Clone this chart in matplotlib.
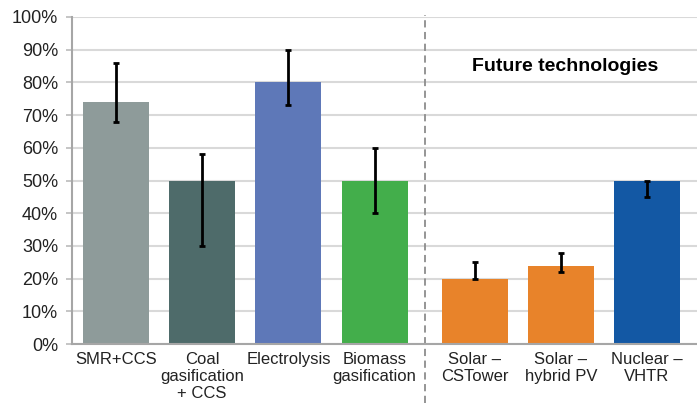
import numpy as np
import matplotlib.pyplot as plt
from matplotlib.ticker import PercentFormatter

plt.rcParams['font.family'] = ['Liberation Sans', 'DejaVu Sans']

# datos del grafico
tecnologias = ['SMR+CCS', 'Coal\ngasification\n+ CCS', 'Electrolysis', 'Biomass\ngasification',
               'Solar –\nCSTower', 'Solar –\nhybrid PV', 'Nuclear –\nVHTR']
eficiencia = [74, 50, 80, 50, 20, 24, 50]
err_bajo = [68, 30, 73, 40, 20, 22, 45]
err_alto = [86, 58, 90, 60, 25, 28, 50]
colores = ['#8E9B9A', '#4E6B6A', '#5E78B8', '#43AE4B', '#E8832A', '#E8832A', '#1358A4']

# posiciones: un pequeño hueco entre actuales y futuras
x = np.arange(len(tecnologias)) + np.array([0, 0, 0, 0, 1, 1, 1]) * 0.16
ef = np.array(eficiencia)
yerr = [ef - np.array(err_bajo), np.array(err_alto) - ef]

fig = plt.figure(figsize=(6.97, 4.03), dpi=100)
ax = fig.add_axes([72 / 697, 0.146, 1 - 72 / 697, 0.958 - 0.146])

ax.bar(x, ef, width=0.765, color=colores, zorder=2)
ax.errorbar(x, ef, yerr=yerr, fmt='none', ecolor='black', elinewidth=2,
            capsize=2.5, capthick=2, zorder=3)

ax.set_ylim(0, 100)
ax.set_xlim(-0.51, x[-1] + 0.58)
ax.set_yticks(np.arange(0, 101, 10))
ax.yaxis.set_major_formatter(PercentFormatter(decimals=0))
ax.set_xticks(x)
ax.set_xticklabels(tecnologias, fontsize=12, color='#222222', linespacing=1.15)
ax.tick_params(axis='y', labelsize=13, labelcolor='#222222', color='#BBBBBB',
               length=4, width=1.2, pad=6)
ax.tick_params(axis='x', length=0, pad=6)

ax.grid(axis='y', color='#D9D9D9', linewidth=1.5, zorder=0)
ax.set_axisbelow(True)
for s in ['top', 'right']:
    ax.spines[s].set_visible(False)
for s in ['left', 'bottom']:
    ax.spines[s].set_color('#A6A6A6')
    ax.spines[s].set_linewidth(1.5)

# linea divisoria
xdiv = (x[3] + x[4]) / 2
ax.plot([xdiv, xdiv], [-18, 100.5], color='#8C8C8C', linestyle=(0, (4, 2.5)),
        linewidth=1.3, clip_on=False, zorder=1)

ax.text((x[4] + x[6]) / 2 + 0.05, 85, 'Future technologies', fontsize=14,
        fontweight='bold', ha='center', va='center', color='black')

fig.savefig('out.png', dpi=100)
